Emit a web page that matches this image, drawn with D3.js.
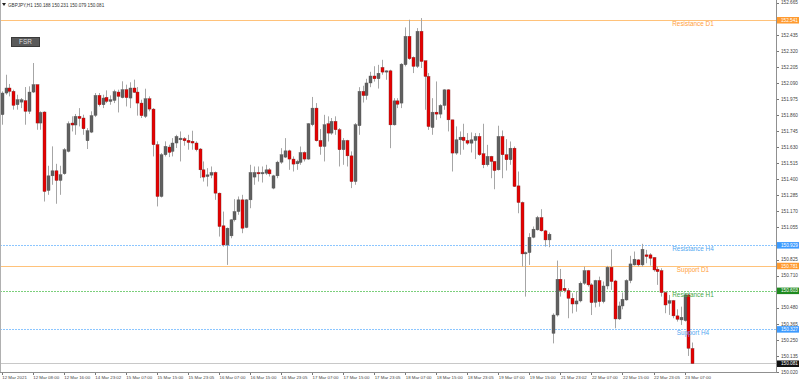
<!DOCTYPE html>
<html>
<head>
<meta charset="utf-8">
<script src="https://cdn.jsdelivr.net/npm/d3@7"></script>
<style>
  body { margin: 0; background: #fff; }
  svg { display: block; font-family: "Liberation Sans", Arial, sans-serif; }
</style>
</head>
<body>
<svg id="chart" width="799" height="383"></svg>
<script>
/* GBPJPY H1 candles with FSR support / resistance levels */

const symbol = "GBPJPY,H1";
const lastBar = [150.188, 150.231, 150.079, 150.081];

const opens = [
  151.863,152.018,152.054,152.030,151.934,151.953,151.963,151.887,152.025,152.078,
  151.803,151.882,151.320,151.425,151.461,151.392,151.440,151.600,151.803,151.789,
  151.851,151.839,151.676,151.738,151.858,152.001,151.934,151.987,151.958,151.965,
  152.025,151.985,152.042,151.982,152.054,152.025,151.946,151.851,151.977,151.903,
  151.648,151.277,151.576,151.631,151.600,151.660,151.683,151.691,151.679,151.672,
  151.660,151.617,151.468,151.420,151.430,151.449,151.301,151.067,150.930,150.995,
  151.110,151.169,151.253,151.055,151.253,151.416,151.449,151.439,151.444,151.468,
  151.337,151.425,151.523,151.559,151.604,151.545,151.511,151.521,151.592,151.545,
  151.791,151.910,151.678,151.635,151.798,151.731,151.815,151.755,151.612,151.678,
  151.568,151.384,151.784,152.030,152.000,152.090,152.140,152.120,152.201,152.168,
  152.177,151.790,151.962,151.946,152.221,152.424,152.273,152.209,152.460,152.249,
  152.137,151.771,151.881,151.867,151.929,152.041,151.826,151.588,151.683,151.702,
  151.678,151.659,151.678,151.707,151.583,151.504,151.564,151.528,151.468,151.707,
  151.576,151.540,151.623,151.353,151.234,150.866,150.875,150.985,151.038,151.126,
  151.031,150.966,150.297,150.428,150.684,150.620,150.603,150.548,150.507,150.529,
  150.656,150.746,150.644,150.519,150.675,150.524,150.636,150.770,150.672,150.400,
  150.493,150.536,150.675,150.787,150.823,150.787,150.859,150.859,150.840,150.756,
  150.746,150.589,150.512,150.531,150.422,150.393,150.388,150.572,150.188
];
const highs = [
  152.030,152.149,152.083,152.042,152.006,151.982,152.061,152.066,152.233,152.078,
  151.887,151.887,151.497,151.636,151.511,151.497,151.624,151.815,151.851,151.868,
  151.910,151.863,151.767,151.887,152.018,152.018,152.006,152.037,152.001,152.042,
  152.042,152.102,152.078,152.095,152.114,152.061,151.970,152.049,151.994,151.910,
  151.672,151.588,151.672,151.648,151.695,151.719,151.743,151.703,151.719,151.748,
  151.672,151.624,151.528,151.480,151.492,151.456,151.305,151.169,151.055,151.114,
  151.258,151.277,151.289,151.258,151.504,151.492,151.492,151.492,151.504,151.480,
  151.432,151.533,151.623,151.695,151.612,151.564,151.540,151.635,151.600,151.803,
  151.990,151.946,151.760,151.862,151.851,151.839,151.851,151.767,151.695,151.683,
  151.600,151.803,152.060,152.070,152.120,152.170,152.210,152.220,152.256,152.180,
  152.185,151.981,151.981,152.232,152.488,152.543,152.280,152.483,152.555,152.249,
  152.161,151.981,152.101,151.938,152.045,152.045,151.826,151.779,151.743,151.798,
  151.731,151.736,151.731,151.731,151.798,151.647,151.568,151.530,151.784,151.750,
  151.688,151.671,151.635,151.456,151.241,150.883,151.014,151.062,151.138,151.186,
  151.038,151.019,150.440,150.818,150.758,150.684,150.620,150.584,150.596,150.668,
  150.775,150.751,150.656,150.680,150.703,150.668,150.780,150.899,150.680,150.524,
  150.589,150.684,150.852,150.883,150.828,150.938,150.895,150.871,150.842,150.775,
  150.763,150.596,150.572,150.536,150.469,150.488,150.584,150.579,150.231
];
const lows = [
  151.791,152.006,151.994,151.899,151.899,151.910,151.791,151.868,152.018,151.755,
  151.755,151.241,151.289,151.361,151.225,151.289,151.433,151.593,151.743,151.719,
  151.779,151.719,151.617,151.731,151.846,151.922,151.910,151.946,151.934,151.946,
  151.879,151.980,151.922,151.910,152.018,151.856,151.839,151.839,151.887,151.564,
  151.206,151.270,151.564,151.559,151.564,151.624,151.528,151.641,151.612,151.612,
  151.600,151.409,151.384,151.349,151.408,151.253,150.990,150.918,150.787,150.978,
  151.098,151.146,151.014,151.050,151.193,151.361,151.384,151.377,151.432,151.420,
  151.329,151.408,151.511,151.552,151.468,151.456,151.468,151.504,151.528,151.540,
  151.780,151.671,151.576,151.528,151.671,151.719,151.719,151.492,151.504,151.492,
  151.337,151.361,151.719,151.950,151.970,152.060,152.100,152.050,152.149,152.113,
  151.623,151.785,151.910,151.910,152.209,152.256,152.161,152.197,152.197,151.898,
  151.754,151.719,151.826,151.838,151.898,151.743,151.456,151.576,151.576,151.612,
  151.647,151.592,151.545,151.568,151.480,151.492,151.408,151.329,151.463,151.408,
  151.463,151.504,151.345,151.157,150.775,150.560,150.787,150.978,151.033,151.026,
  150.918,150.914,150.225,150.417,150.560,150.589,150.405,150.440,150.452,150.519,
  150.644,150.632,150.428,150.483,150.488,150.512,150.612,150.608,150.333,150.393,
  150.469,150.531,150.656,150.782,150.775,150.775,150.799,150.782,150.739,150.644,
  150.560,150.441,150.429,150.405,150.381,150.357,150.381,150.135,150.079
];
const closes = [
  152.018,152.054,152.030,151.930,151.970,151.970,151.887,152.025,152.078,151.803,
  151.879,151.313,151.425,151.461,151.392,151.433,151.612,151.798,151.789,151.851,
  151.836,151.762,151.748,151.856,152.001,151.934,151.982,151.958,151.970,152.028,
  151.994,152.042,151.985,152.054,152.023,151.946,151.856,151.977,151.903,151.648,
  151.277,151.576,151.636,151.593,151.660,151.707,151.695,151.676,151.664,151.660,
  151.612,151.468,151.416,151.432,151.449,151.301,151.062,150.930,151.050,151.110,
  151.169,151.253,151.050,151.253,151.449,151.449,151.439,151.449,151.468,151.439,
  151.425,151.523,151.576,151.604,151.545,151.509,151.528,151.592,151.545,151.798,
  151.910,151.676,151.635,151.791,151.731,151.815,151.755,151.612,151.678,151.568,
  151.384,151.791,152.030,152.000,152.090,152.140,152.120,152.160,152.168,152.177,
  151.790,151.962,151.938,152.225,152.424,152.264,152.209,152.460,152.244,152.137,
  151.778,151.881,151.867,151.929,152.041,151.826,151.588,151.683,151.702,151.678,
  151.659,151.683,151.707,151.576,151.504,151.564,151.528,151.463,151.707,151.576,
  151.540,151.623,151.349,151.234,150.866,150.875,150.985,151.043,151.126,151.031,
  150.966,151.007,150.428,150.684,150.603,150.603,150.548,150.507,150.529,150.656,
  150.746,150.644,150.517,150.675,150.524,150.636,150.770,150.668,150.400,150.493,
  150.541,150.675,150.794,150.828,150.787,150.899,150.847,150.835,150.751,150.739,
  150.589,150.500,150.531,150.422,150.398,150.412,150.572,150.190,150.081
];

const timeLabels = [
  "12 Mar 2021","12 Mar 08:00","12 Mar 16:00","14 Mar 23:02","15 Mar 07:00","15 Mar 15:00",
  "15 Mar 23:05","16 Mar 07:00","16 Mar 15:00","16 Mar 23:05","17 Mar 07:00","17 Mar 15:00",
  "17 Mar 23:05","18 Mar 07:00","18 Mar 15:00","18 Mar 23:05","19 Mar 07:00","19 Mar 15:00",
  "21 Mar 23:02","22 Mar 07:00","22 Mar 15:00","22 Mar 23:05","23 Mar 07:00"
];
const timeLabelBars = [0,8,16,24,32,40,48,56,64,72,80,88,96,104,112,120,128,136,144,152,160,168,176];

const priceTicks = [
  150.020,150.135,150.250,150.365,150.480,150.710,150.825,151.055,151.170,151.285,
  151.400,151.515,151.630,151.745,151.860,151.975,152.090,152.205,152.320,152.435,152.665
];

const levelNames = ["Resistance D1","Resistance H4","Support D1","Resistance H1","Support H4"];
const levelPrices = [152.541, 150.929, 150.781, 150.603, 150.327];

const levelStyle = {
  "Resistance D1": { line: "#ffc27a", tag: "#ff9a2e", text: "#ffa03c", dash: "none" },
  "Support D1":    { line: "#ffc27a", tag: "#ff9a2e", text: "#ffa03c", dash: "none" },
  "Resistance H4": { line: "#8cc6ff", tag: "#3d9bff", text: "#55a8f0", dash: "2,1" },
  "Support H4":    { line: "#8cc6ff", tag: "#3d9bff", text: "#55a8f0", dash: "2,1" },
  "Resistance H1": { line: "#7ccf7c", tag: "#1f8a1f", text: "#4aa84a", dash: "2,1" }
};

const W = 799, H = 383;
const plotRight = 776, plotBottom = 372;

const svg = d3.select("#chart");

const x = d3.scaleLinear().domain([0, opens.length - 1]).range([1.7, 692.3]);
const y = d3.scaleLinear().domain([150.020, 152.665]).range([plotBottom, 2.7]);

const bars = opens.map((o, i) => ({ i, o, h: highs[i], l: lows[i], c: closes[i] }));

// --- levels (drawn under candles) ---
const levels = levelNames.map((n, i) => ({ name: n, price: levelPrices[i] }));

svg.append("g").attr("class", "levels").selectAll("line")
  .data(levels)
  .join("line")
  .attr("x1", 0).attr("x2", plotRight)
  .attr("y1", d => Math.round(y(d.price)) + 0.5)
  .attr("y2", d => Math.round(y(d.price)) + 0.5)
  .style("stroke", d => levelStyle[d.name].line)
  .style("stroke-width", "1px")
  .style("stroke-dasharray", d => levelStyle[d.name].dash);

// bid line
svg.append("line")
  .attr("x1", 0).attr("x2", plotRight)
  .attr("y1", Math.round(y(lastBar[3])) + 0.5)
  .attr("y2", Math.round(y(lastBar[3])) + 0.5)
  .attr("stroke", "#c8c8c8");

// --- candles ---
const cg = svg.append("g");
cg.selectAll(".wick")
  .data(bars)
  .join("line")
  .attr("class", "wick")
  .attr("x1", d => Math.round(x(d.i)) + 0.5)
  .attr("x2", d => Math.round(x(d.i)) + 0.5)
  .attr("y1", d => y(d.h))
  .attr("y2", d => y(d.l))
  .attr("stroke", "#a6a6a6")
  .attr("stroke-width", 1);

cg.selectAll(".body")
  .data(bars)
  .join("rect")
  .attr("class", "body")
  .attr("x", d => Math.round(x(d.i)) - 1)
  .attr("width", 3)
  .attr("y", d => y(Math.max(d.o, d.c)))
  .attr("height", d => Math.max(1, Math.abs(y(d.o) - y(d.c))))
  .attr("fill", d => d.c >= d.o ? "#606060" : "#e60000")
  .attr("stroke", d => d.c >= d.o ? "#555" : "#7a2020")
  .attr("stroke-width", 0.4);

// level text labels
svg.append("g").selectAll("text")
  .data(levels)
  .join("text")
  .attr("x", 693)
  .attr("y", d => y(d.price) + 6)
  .attr("text-anchor", "middle")
  .attr("font-size", 6.4)
  .attr("fill", d => levelStyle[d.name].text)
  .text(d => d.name);

// --- frame ---
svg.append("line")
  .attr("x1", plotRight + 0.5).attr("x2", plotRight + 0.5)
  .attr("y1", 0).attr("y2", plotBottom + 1)
  .attr("stroke", "#909090");
svg.append("line")
  .attr("x1", 0).attr("x2", plotRight + 1)
  .attr("y1", plotBottom + 0.5).attr("y2", plotBottom + 0.5)
  .attr("stroke", "#909090");
svg.append("line")
  .attr("x1", 0.5).attr("x2", 0.5)
  .attr("y1", 0).attr("y2", plotBottom)
  .attr("stroke", "#b0b0b0");

// price axis
const pa = svg.append("g");
pa.selectAll("line")
  .data(priceTicks)
  .join("line")
  .attr("x1", plotRight + 1).attr("x2", plotRight + 3)
  .attr("y1", d => Math.round(y(d)) + 0.5)
  .attr("y2", d => Math.round(y(d)) + 0.5)
  .attr("stroke", "#777");
pa.selectAll("text")
  .data(priceTicks)
  .join("text")
  .attr("x", 781)
  .attr("y", d => y(d) + 1.7)
  .attr("font-size", 4.7)
  .attr("fill", "#444")
  .text(d => d.toFixed(3));

// highlighted price tags
const tags = levels.map(d => ({ price: d.price, fill: levelStyle[d.name].tag }))
  .concat([{ price: lastBar[3], fill: "#111" }]);
const tg = svg.append("g").selectAll("g").data(tags).join("g");
tg.append("rect")
  .attr("x", plotRight + 1)
  .attr("y", d => y(d.price) - 3)
  .attr("width", W - plotRight - 1)
  .attr("height", 6.5)
  .attr("fill", d => d.fill);
tg.append("text")
  .attr("x", 781)
  .attr("y", d => y(d.price) + 1.8)
  .attr("font-size", 4.7)
  .attr("fill", "#fff")
  .text(d => d.price.toFixed(3));

// time axis
const ta = svg.append("g");
ta.selectAll("line")
  .data(timeLabelBars)
  .join("line")
  .attr("x1", d => Math.round(x(d)) + 0.5)
  .attr("x2", d => Math.round(x(d)) + 0.5)
  .attr("y1", plotBottom + 1).attr("y2", plotBottom + 3)
  .attr("stroke", "#777");
ta.selectAll("text")
  .data(timeLabels)
  .join("text")
  .attr("x", (d, i) => x(timeLabelBars[i]) + 0.5)
  .attr("y", 379)
  .attr("font-size", 4.4)
  .attr("fill", "#444")
  .text(d => d);

// header
svg.append("path")
  .attr("d", "M2,3 L6,3 L4,6 Z")
  .attr("fill", "#222");
svg.append("text")
  .attr("x", 8).attr("y", 7)
  .attr("font-size", 4.6)
  .attr("fill", "#333")
  .text(symbol + "  " + lastBar.map(v => v.toFixed(3)).join(" "));

// FSR button
const btn = svg.append("g");
btn.append("rect")
  .attr("x", 11.5).attr("y", 37.5)
  .attr("width", 28).attr("height", 9)
  .attr("fill", "#5a5a5a")
  .attr("stroke", "#3a3a3a");
btn.append("text")
  .attr("x", 25.5).attr("y", 44.3)
  .attr("text-anchor", "middle")
  .attr("font-size", 6.4)
  .attr("fill", "#ddd")
  .text("FSR");
</script>
</body>
</html>
